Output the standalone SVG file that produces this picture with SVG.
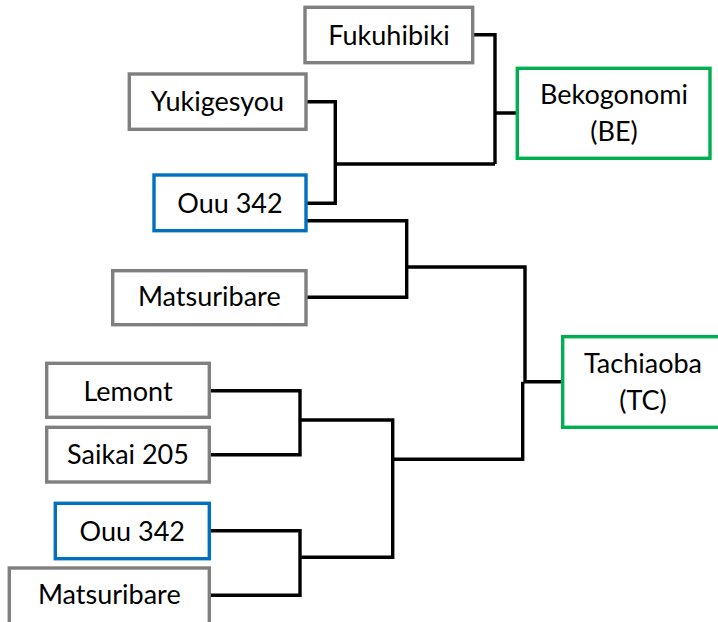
<svg xmlns="http://www.w3.org/2000/svg" width="718" height="622" viewBox="0 0 718 622">
<style>
.box{fill:#fff;stroke-width:3.4}
.gray{stroke:#7f7f7f}
.blue{stroke:#0070c0}
.green{stroke:#00b050}
.lbl{font-family:Lato,"Open Sans",sans-serif;font-size:27px;fill:#000;text-anchor:middle}
.con{fill:none;stroke:#000;stroke-width:3.4;stroke-linejoin:miter;stroke-linecap:butt}
</style>
<rect width="718" height="622" fill="#fff"/>
<g id="connectors">
<path class="con" d="M472.7,34.7H495V164M335,164H495M495,113H518"/>
<path class="con" d="M306,101.7H335.3V203.3H306"/>
<path class="con" d="M306,220.7H406.7V297.3H306M406.7,267H525V381.7H562.7"/>
<path class="con" d="M209.3,390.7H300V454.7H209.3M300,420H392.7V557.3H300"/>
<path class="con" d="M209.3,530.7H300V595.3H209.3"/>
<path class="con" d="M392.7,459.3H522.7V381.7"/>
</g>
<g id="fukuhibiki"><rect class="box gray" x="305" y="7.3" width="167.7" height="55.4"/><text class="lbl" x="389" y="45">Fukuhibiki</text></g>
<g id="bekogonomi"><rect class="box green" x="517.3" y="68.3" width="192.7" height="90"/><text class="lbl" x="614" y="104.3">Bekogonomi</text><text class="lbl" x="614" y="140.5">(BE)</text></g>
<g id="yukigesyou"><rect class="box gray" x="129.3" y="74" width="176.7" height="55.3"/><text class="lbl" x="217.5" y="110.7">Yukigesyou</text></g>
<g id="ouu342a"><rect class="box blue" x="154" y="175" width="152" height="55.7"/><text class="lbl" x="230" y="212.7">Ouu 342</text></g>
<g id="matsuribarea"><rect class="box gray" x="112.7" y="270.7" width="193.3" height="54"/><text class="lbl" x="209.3" y="306">Matsuribare</text></g>
<g id="tachiaoba"><rect class="box green" x="562.7" y="336.7" width="161" height="90.6"/><text class="lbl" x="643" y="373.3">Tachiaoba</text><text class="lbl" x="643" y="409.5">(TC)</text></g>
<g id="lemont"><rect class="box gray" x="46.7" y="363.3" width="162.6" height="54"/><text class="lbl" x="128" y="400.7">Lemont</text></g>
<g id="saikai205"><rect class="box gray" x="46.7" y="427.3" width="162.6" height="54.7"/><text class="lbl" x="128" y="464">Saikai 205</text></g>
<g id="ouu342b"><rect class="box blue" x="55.3" y="503.3" width="154" height="55.4"/><text class="lbl" x="132.3" y="540.7">Ouu 342</text></g>
<g id="matsuribareb"><rect class="box gray" x="9.3" y="568" width="200" height="60"/><text class="lbl" x="109.3" y="604">Matsuribare</text></g>
</svg>
